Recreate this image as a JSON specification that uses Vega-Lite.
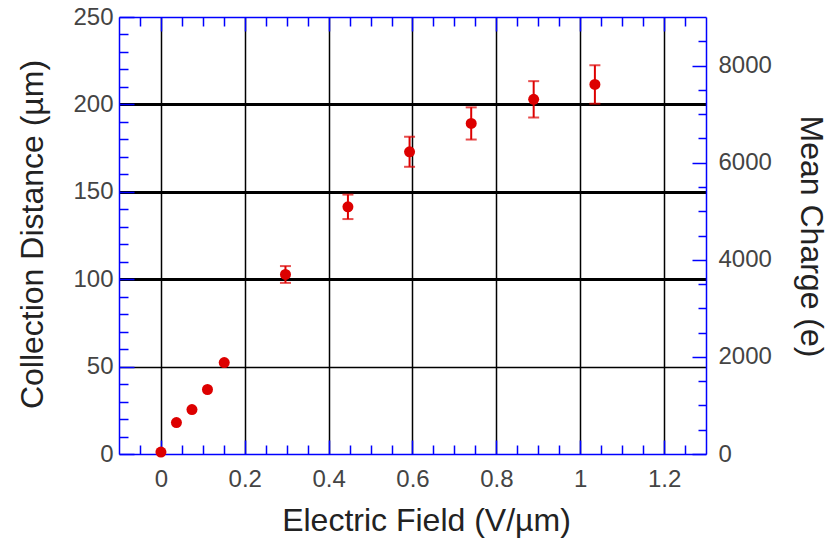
{
  "$schema": "https://vega.github.io/schema/vega-lite/v6.json",
  "width": 587,
  "height": 437,
  "autosize": "none",
  "padding": {"left": 119, "top": 17, "right": 133, "bottom": 84},
  "background": "white",
  "config": {"view": {"stroke": null}, "font": "Liberation Sans"},
  "data": {
    "values": [
      {"E": 0.0, "dist": 1.1, "err": 0, "charge": 40},
      {"E": 0.037, "dist": 18.0, "err": 0, "charge": 648},
      {"E": 0.074, "dist": 25.4, "err": 0, "charge": 914},
      {"E": 0.111, "dist": 36.9, "err": 0, "charge": 1328},
      {"E": 0.151, "dist": 52.3, "err": 0, "charge": 1883},
      {"E": 0.297, "dist": 102.7, "err": 4.8, "charge": 3697},
      {"E": 0.446, "dist": 141.4, "err": 7.0, "charge": 5090},
      {"E": 0.593, "dist": 172.9, "err": 8.6, "charge": 6224},
      {"E": 0.74, "dist": 189.1, "err": 9.2, "charge": 6808},
      {"E": 0.889, "dist": 202.9, "err": 10.4, "charge": 7304},
      {"E": 1.035, "dist": 211.4, "err": 11.0, "charge": 7610}
    ]
  },
  "layer": [
    {
      "mark": {"type": "point", "opacity": 0},
      "encoding": {
        "x": {
          "field": "E", "type": "quantitative",
          "scale": {"domain": [-0.1, 1.3], "nice": false, "zero": false},
          "axis": {
            "orient": "bottom",
            "values": [-0.05, 0, 0.05, 0.1, 0.15, 0.2, 0.25, 0.3, 0.35, 0.4, 0.45, 0.5, 0.55, 0.6, 0.65, 0.7, 0.75, 0.8, 0.85, 0.9, 0.95, 1.0, 1.05, 1.1, 1.15, 1.2, 1.25],
            "labelExpr": "abs(datum.value*5 - round(datum.value*5)) < 0.001 ? toString(round(datum.value*10)/10) : ''",
            "tickSize": {"condition": {"test": "abs(datum.value*5 - round(datum.value*5)) < 0.001", "value": -14}, "value": -9},
            "tickColor": "#0000ff", "tickWidth": 1.5,
            "domainColor": "#0000ff", "domainWidth": 1.5,
            "grid": true, "gridColor": "#000000", "gridWidth": 1.5,
            "gridOpacity": {"condition": {"test": "abs(datum.value*5 - round(datum.value*5)) < 0.001", "value": 1}, "value": 0},
            "labelPadding": 27, "labelFontSize": 24, "labelColor": "#444444", "labelFont": "Liberation Sans",
            "labelFlush": false, "labelOverlap": false,
            "title": "Electric Field (V/µm)", "titleFontSize": 32, "titleFontWeight": "normal",
            "titleColor": "#222222", "titleFont": "Liberation Sans",
            "titleX": 307, "titleY": 66, "titleAlign": "center", "titleBaseline": "middle"
          }
        },
        "y": {
          "field": "dist", "type": "quantitative",
          "scale": {"domain": [0, 250], "nice": false, "zero": false},
          "axis": {
            "orient": "left",
            "values": [0, 10, 20, 30, 40, 50, 60, 70, 80, 90, 100, 110, 120, 130, 140, 150, 160, 170, 180, 190, 200, 210, 220, 230, 240, 250],
            "labelExpr": "datum.value % 50 == 0 ? toString(datum.value) : ''",
            "tickSize": {"condition": {"test": "datum.value % 50 == 0", "value": -15}, "value": -9},
            "tickColor": "#0000ff", "tickWidth": 1.5,
            "domainColor": "#0000ff", "domainWidth": 1.5,
            "grid": true, "gridColor": "#000000",
            "gridWidth": {"condition": {"test": "datum.value >= 100", "value": 3}, "value": 1.5},
            "gridOpacity": {"condition": {"test": "datum.value % 50 == 0 && datum.value > 0 && datum.value < 250", "value": 1}, "value": 0},
            "labelPadding": 21, "labelFontSize": 24, "labelColor": "#444444", "labelFont": "Liberation Sans",
            "labelFlush": false, "labelOverlap": false,
            "title": "Collection Distance (µm)", "titleFontSize": 32, "titleFontWeight": "normal",
            "titleColor": "#222222", "titleFont": "Liberation Sans",
            "titleAngle": -90, "titleX": -87, "titleY": 217, "titleAlign": "center", "titleBaseline": "middle"
          }
        }
      }
    },
    {
      "transform": [{"filter": "datum.err > 0"}],
      "mark": {"type": "errorbar", "color": "#dd0000", "thickness": 2, "ticks": {"size": 11}},
      "encoding": {
        "x": {"field": "E", "type": "quantitative", "axis": null},
        "y": {"field": "dist", "type": "quantitative", "scale": {"domain": [0, 250], "nice": false, "zero": false}, "axis": null},
        "yError": {"field": "err"}
      }
    },
    {
      "mark": {"type": "point", "filled": true, "shape": "circle", "size": 121, "color": "#dd0000", "opacity": 1},
      "encoding": {
        "x": {"field": "E", "type": "quantitative", "axis": null},
        "y": {"field": "dist", "type": "quantitative", "scale": {"domain": [0, 250], "nice": false, "zero": false}, "axis": null}
      }
    },
    {
      "mark": {"type": "point", "opacity": 0},
      "encoding": {
        "x": {
          "field": "E", "type": "quantitative",
          "axis": {
            "orient": "top",
            "values": [-0.05, 0, 0.05, 0.1, 0.15, 0.2, 0.25, 0.3, 0.35, 0.4, 0.45, 0.5, 0.55, 0.6, 0.65, 0.7, 0.75, 0.8, 0.85, 0.9, 0.95, 1.0, 1.05, 1.1, 1.15, 1.2, 1.25],
            "labels": false, "grid": false, "title": null,
            "tickSize": {"condition": {"test": "abs(datum.value*5 - round(datum.value*5)) < 0.001", "value": -14}, "value": -9},
            "tickColor": "#0000ff", "tickWidth": 1.5,
            "domainColor": "#0000ff", "domainWidth": 1.5
          }
        },
        "y": {
          "field": "charge", "type": "quantitative",
          "scale": {"domain": [0, 9000], "nice": false, "zero": false},
          "axis": {
            "orient": "right",
            "values": [0, 500, 1000, 1500, 2000, 2500, 3000, 3500, 4000, 4500, 5000, 5500, 6000, 6500, 7000, 7500, 8000, 8500],
            "labelExpr": "datum.value % 2000 == 0 ? toString(datum.value) : ''",
            "tickSize": {"condition": {"test": "datum.value % 2000 == 0", "value": -14}, "value": -8},
            "tickColor": "#0000ff", "tickWidth": 1.5,
            "domainColor": "#0000ff", "domainWidth": 1.5,
            "grid": false,
            "labelPadding": 26, "labelFontSize": 24, "labelColor": "#444444", "labelFont": "Liberation Sans",
            "labelFlush": false, "labelOverlap": false,
            "title": "Mean Charge (e)", "titleFontSize": 32, "titleFontWeight": "normal",
            "titleColor": "#222222", "titleFont": "Liberation Sans",
            "titleAngle": 90, "titleX": 104, "titleY": 219, "titleAlign": "center", "titleBaseline": "middle"
          }
        }
      }
    }
  ],
  "resolve": {"scale": {"y": "independent"}, "axis": {"x": "independent", "y": "independent"}}
}
